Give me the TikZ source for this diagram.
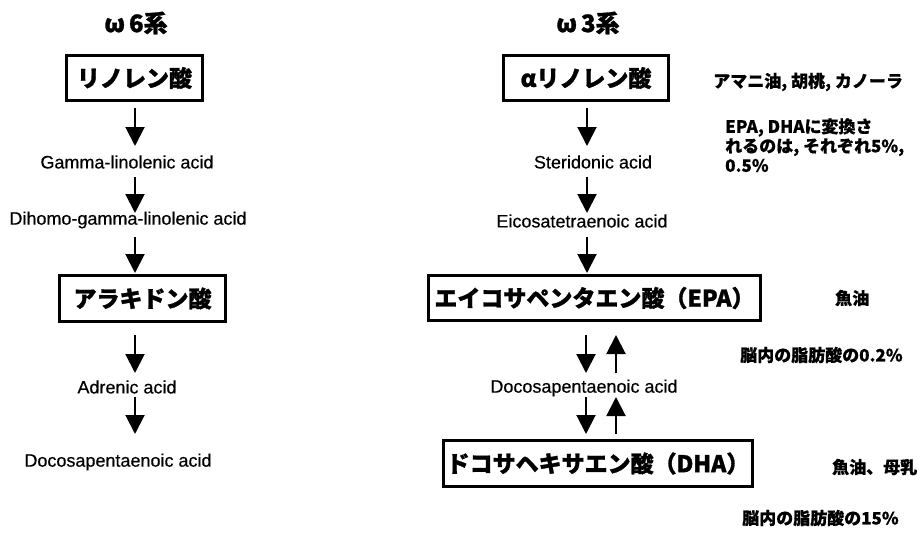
\documentclass[tikz,border=0pt]{standalone}
\usepackage{fontspec}
\setmainfont{Liberation Sans}
\newfontfamily\jp{Noto Sans CJK JP}[BoldFeatures={FakeBold=1.2}]
\newfontfamily\jpnote{Noto Sans CJK JP}[BoldFeatures={FakeBold=0.6}]
\newfontfamily\latinlabel{Liberation Sans}[FakeBold=0.4]
\usetikzlibrary{arrows.meta}
\begin{document}
\begin{tikzpicture}[x=1pt,y=-1pt,
  boxnode/.style={draw,line width=3pt,inner sep=0pt,font=\jp\bfseries\fontsize{23}{25}\selectfont},
  acidlabel/.style={inner sep=0pt,font=\latinlabel\fontsize{18}{20}\selectfont},
  title/.style={inner sep=0pt,font=\jp\bfseries\fontsize{24}{26}\selectfont},
  note/.style={inner sep=0pt,anchor=west,align=left,font=\jpnote\bfseries\fontsize{17}{19.5}\selectfont},
  arr/.style={line width=2pt,-{Triangle[length=19pt 0 0,width=19pt 0 0]}}]
\useasboundingbox (0,0) rectangle (919,533);
% titles
\node[title] (t6) at (136,23) {ω\,6系};
\node[title] (t3) at (588,23) {ω\,3系};
% omega-6 column
\node[boxnode,minimum width=136pt,minimum height=45pt] (b1) at (134.5,78) {リノレン酸};
\node[acidlabel] (g1) at (127,162) {Gamma-linolenic acid};
\node[acidlabel] (g2) at (128,220) {Dihomo-gamma-linolenic acid};
\node[boxnode,minimum width=166pt,minimum height=46pt] (b2) at (142.5,298.5) {アラキドン酸};
\node[acidlabel] (g3) at (127,387) {Adrenic acid};
\node[acidlabel] (g4) at (118,462) {Docosapentaenoic acid};
% omega-3 column
\node[boxnode,minimum width=165pt,minimum height=45pt] (c1) at (586,78) {αリノレン酸};
\node[acidlabel] (h1) at (593,162) {Steridonic acid};
\node[acidlabel] (h2) at (582,221) {Eicosatetraenoic acid};
\node[boxnode,minimum width=332pt,minimum height=45pt] (c2) at (594.5,298) {エイコサペンタエン酸（EPA）};
\node[acidlabel] (h3) at (584,388) {Docosapentaenoic acid};
\node[boxnode,minimum width=309pt,minimum height=46pt] (c3) at (598,463.5) {ドコサヘキサエン酸（DHA）};
% notes
\node[note] (n1) at (713,82) {アマニ油, 胡桃, カノーラ};
\node[note,anchor=north west] (n2) at (725,118) {EPA, DHAに変換さ\\れるのは, それぞれ5\%,\\0.5\%};
\node[note] (n3) at (835,298) {魚油};
\node[note] (n4) at (740,355) {脳内の脂肪酸の0.2\%};
\node[note] (n5) at (832,467) {魚油、母乳};
\node[note] (n6) at (742,518) {脳内の脂肪酸の15\%};
% arrow end points
\coordinate (p1s) at (135,108); \coordinate (p1e) at (135,146);
\coordinate (p2s) at (135,177); \coordinate (p2e) at (135,213);
\coordinate (p3s) at (135,237); \coordinate (p3e) at (135,273);
\coordinate (p4s) at (135,335); \coordinate (p4e) at (135,373);
\coordinate (p5s) at (135,397); \coordinate (p5e) at (135,434);
\coordinate (q1s) at (587,108); \coordinate (q1e) at (587,146);
\coordinate (q2s) at (587,177); \coordinate (q2e) at (587,213);
\coordinate (q3s) at (587,237); \coordinate (q3e) at (587,273);
\coordinate (q4s) at (586,335); \coordinate (q4e) at (586,373);
\coordinate (u4s) at (616,373); \coordinate (u4e) at (616,335);
\coordinate (q5s) at (586,397); \coordinate (q5e) at (586,434);
\coordinate (u5s) at (616,434); \coordinate (u5e) at (616,397);
% arrows
\draw[arr] (p1s) -- (p1e);
\draw[arr] (p2s) -- (p2e);
\draw[arr] (p3s) -- (p3e);
\draw[arr] (p4s) -- (p4e);
\draw[arr] (p5s) -- (p5e);
\draw[arr] (q1s) -- (q1e);
\draw[arr] (q2s) -- (q2e);
\draw[arr] (q3s) -- (q3e);
\draw[arr] (q4s) -- (q4e);
\draw[arr] (u4s) -- (u4e);
\draw[arr] (q5s) -- (q5e);
\draw[arr] (u5s) -- (u5e);
\end{tikzpicture}
\end{document}
